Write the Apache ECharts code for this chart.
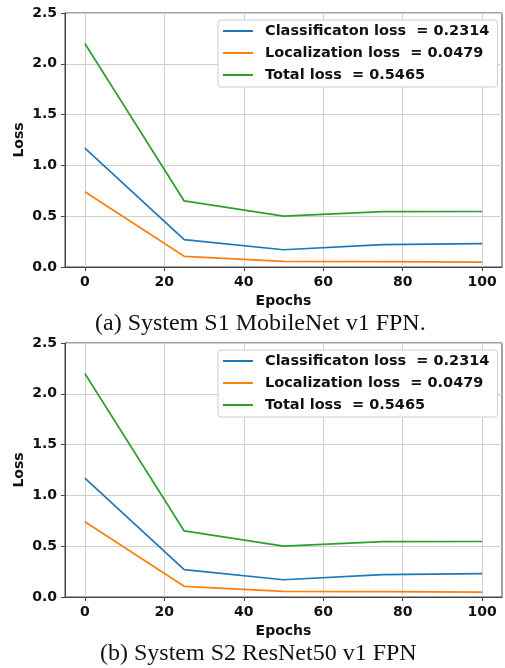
<!DOCTYPE html>
<html><head><meta charset="utf-8">
<script src="https://cdn.jsdelivr.net/npm/echarts@6/dist/echarts.min.js"></script>
<style>html,body{margin:0;padding:0;background:#fff}#c{width:505px;height:668px}</style>
</head><body><div id="c"></div>
<script>
const epochs = [0, 25, 50, 75, 100];
const xTicks = [0, 20, 40, 60, 80, 100];
const seriesNames = ['Classificaton loss  = 0.2314', 'Localization loss  = 0.0479', 'Total loss  = 0.5465'];
const colors = ['#1f77b4', '#ff7f0e', '#2ca02c'];
// S1 MobileNet v1 FPN
const s1Class = [1.17, 0.27, 0.17, 0.22, 0.23];
const s1Loc = [0.74, 0.105, 0.055, 0.052, 0.048];
const s1Total = [2.2, 0.65, 0.5, 0.545, 0.5465];
// S2 ResNet50 v1 FPN
const s2Class = [1.17, 0.27, 0.17, 0.22, 0.23];
const s2Loc = [0.74, 0.105, 0.055, 0.052, 0.048];
const s2Total = [2.2, 0.65, 0.5, 0.545, 0.5465];
const captions = ['(a) System S1 MobileNet v1 FPN.', '(b) System S2 ResNet50 v1 FPN'];

const tickFont = {fontFamily: 'DejaVu Sans', fontWeight: 'bold', fontSize: 14, color: '#111'};
const gridTops = [13, 343];
function mkGrid(top){return {left: 65, top: top, width: 437, height: 254, show: true, borderColor: '#444', borderWidth: 1, backgroundColor: '#fff'};}
function mkX(i){return {gridIndex: i, type: 'value', min: -5, max: 105,
  name: 'Epochs', nameLocation: 'middle', nameGap: 27, nameMoveOverlap: false,
  nameTextStyle: {fontFamily: 'DejaVu Sans', fontWeight: 'bold', fontSize: 14, color: '#111'},
  axisLine: {show: true, onZero: false, lineStyle: {color: '#444', width: 1}},
  axisTick: {show: true, length: 4, customValues: xTicks, lineStyle: {color: '#444'}},
  axisLabel: Object.assign({customValues: xTicks, margin: 8}, tickFont),
  splitLine: {show: true, lineStyle: {color: '#d0d0d0', width: 1}}};}
function mkY(i){return {gridIndex: i, type: 'value', min: 0, max: 2.5, interval: 0.5,
  name: 'Loss', nameLocation: 'middle', nameGap: 39, nameRotate: 90, nameMoveOverlap: false,
  nameTextStyle: {fontFamily: 'DejaVu Sans', fontWeight: 'bold', fontSize: 14, color: '#111'},
  axisLine: {show: true, onZero: false, lineStyle: {color: '#444', width: 1}},
  axisTick: {show: true, length: 4, lineStyle: {color: '#444'}},
  axisLabel: Object.assign({margin: 8, formatter: v => v.toFixed(1)}, tickFont),
  splitLine: {show: true, lineStyle: {color: '#d0d0d0', width: 1}}};}
function mkSeries(i, arrs){return arrs.map((a, k) => ({name: seriesNames[k], type: 'line', xAxisIndex: i, yAxisIndex: i,
  data: epochs.map((e, j) => [e, a[j]]), showSymbol: false, symbol: 'none', color: colors[k],
  lineStyle: {width: 1.7, color: colors[k]}, z: 3}));}
function mkLegend(top){return {left: 218, top: top, orient: 'vertical', icon: 'rect', itemWidth: 30, itemHeight: 2,
  itemGap: 6, padding: [3, 8, 4, 5], backgroundColor: '#fff', borderColor: '#ccc', borderWidth: 1, borderRadius: 3,
  selectedMode: false,
  textStyle: {fontFamily: 'DejaVu Sans', fontWeight: 'bold', fontSize: 14.5, color: '#111', lineHeight: 16, padding: [0, 0, 0, 7]},
  data: seriesNames};}

const chart = echarts.init(document.getElementById('c'), null, {renderer: 'canvas'});
chart.setOption({
  animation: false,
  backgroundColor: '#fff',
  grid: [mkGrid(gridTops[0]), mkGrid(gridTops[1])],
  xAxis: [mkX(0), mkX(1)],
  yAxis: [mkY(0), mkY(1)],
  legend: [mkLegend(20), mkLegend(350)],
  title: [
    {text: captions[0], left: 95, top: 312, padding: 0, textStyle: {fontFamily: 'Liberation Serif', fontWeight: 'normal', fontSize: 24, color: '#111'}},
    {text: captions[1], left: 100, top: 642, padding: 0, textStyle: {fontFamily: 'Liberation Serif', fontWeight: 'normal', fontSize: 24, color: '#111'}}
  ],
  series: mkSeries(0, [s1Class, s1Loc, s1Total]).concat(mkSeries(1, [s2Class, s2Loc, s2Total]))
});
</script></body></html>
